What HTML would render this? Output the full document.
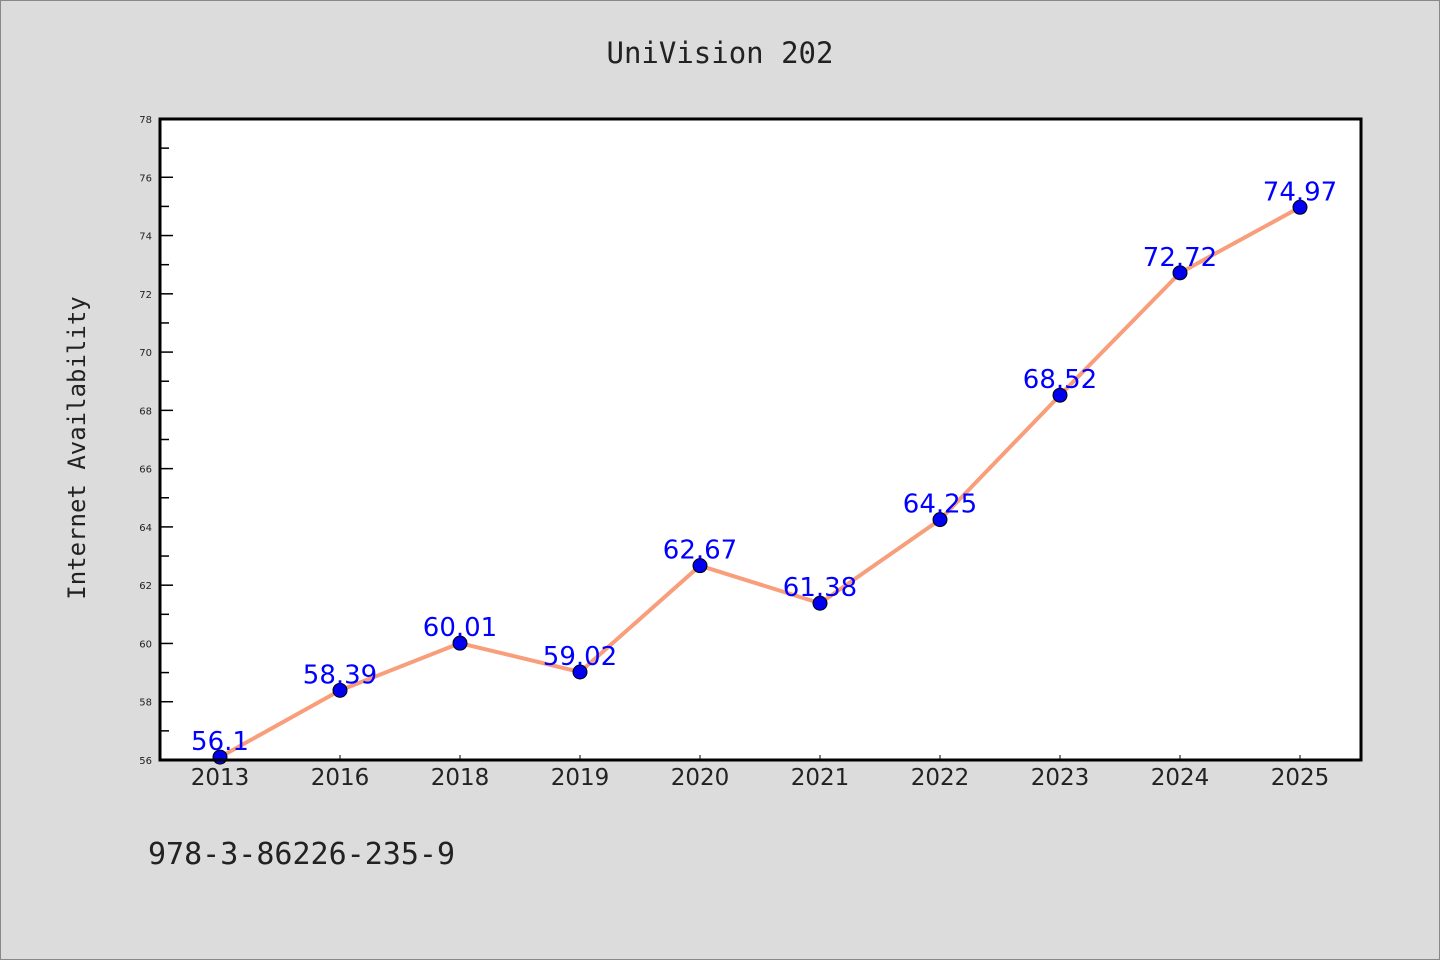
<!DOCTYPE html>
<html><head><meta charset="utf-8"><style>
body{margin:0;background:#dcdcdc;}
svg{display:block;}
</style></head><body>
<svg width="1440" height="960" xmlns="http://www.w3.org/2000/svg">
<rect x="0.5" y="0.5" width="1439" height="959" fill="#dcdcdc" stroke="#888"/>
<text x="720" y="63" text-anchor="middle" font-family="DejaVu Sans Mono, Liberation Mono, monospace" font-size="29" fill="#222">UniVision 202</text>
<text transform="translate(85,448) rotate(-90)" text-anchor="middle" font-family="DejaVu Sans Mono, Liberation Mono, monospace" font-size="24" fill="#222">Internet Availability</text>
<text x="148" y="864" font-family="DejaVu Sans Mono, Liberation Mono, monospace" font-size="30" fill="#222">978-3-86226-235-9</text>
<rect x="160" y="119" width="1201" height="641" fill="#fff"/>
<g id="ticks"></g>
<g id="marks"></g>
<rect x="160" y="119" width="1201" height="641" fill="none" stroke="#000" stroke-width="3"/>
</svg>
<script>
const categories = ["2013","2016","2018","2019","2020","2021","2022","2023","2024","2025"];
const values = [56.1,58.39,60.01,59.02,62.67,61.38,64.25,68.52,72.72,74.97];
const yTicks = [56,58,60,62,64,66,68,70,72,74,76,78];
const yMin = 56, yMax = 78;
const L=160,R=1361,T=119,B=760;
const ns="http://www.w3.org/2000/svg";
function x(i){return L+60+i*((R-1-L-120)/(categories.length-1));}
function y(v){return B-(v-yMin)/(yMax-yMin)*(B-T);}
function mk(tag,attrs,parent){const e=document.createElementNS(ns,tag);for(const k in attrs)e.setAttribute(k,attrs[k]);parent.appendChild(e);return e;}
const tg=document.getElementById('ticks'), mg=document.getElementById('marks');
yTicks.forEach(t=>{
  const l=mk('line',{x1:L,x2:L+13,y1:y(t),y2:y(t),stroke:'#000','stroke-width':1.5},tg);
  
  
  const tx=mk('text',{x:L-8,y:y(t)+4,'text-anchor':'end','font-family':'DejaVu Sans, Liberation Sans, sans-serif','font-size':10,fill:'#222'},tg);
  tx.textContent=t;
  
  
  if(t<yMax){
    const m=mk('line',{x1:L,x2:L+9,y1:y(t+1),y2:y(t+1),stroke:'#000','stroke-width':1.5},tg);
    
    
  }
});
categories.forEach((c,i)=>{
  const l=mk('line',{x1:x(i),x2:x(i),y1:B,y2:B-5,stroke:'#000','stroke-width':1},tg);
  
  
  const tx=mk('text',{x:x(i),y:B+25,'text-anchor':'middle','font-family':'DejaVu Sans, Liberation Sans, sans-serif','font-size':23,fill:'#222'},tg);
  tx.textContent=c;
  
  
});
const pl=mk('polyline',{points:values.map((v,i)=>x(i)+','+y(v)).join(' '),fill:'none',stroke:'#f89e7b','stroke-width':4,'stroke-linejoin':'round'},mg);


values.forEach((v,i)=>{
  const c=mk('circle',{cx:x(i),cy:y(v),r:7,fill:'#0000ee',stroke:'#000','stroke-width':1},mg);
  
  
});
values.forEach((v,i)=>{
  const t=mk('text',{x:x(i),y:y(v)-7,'text-anchor':'middle','font-family':'DejaVu Sans, Liberation Sans, sans-serif','font-size':26,fill:'#0000ff'},mg);
  t.textContent=String(v);
  
  
});
</script>
</body></html>
